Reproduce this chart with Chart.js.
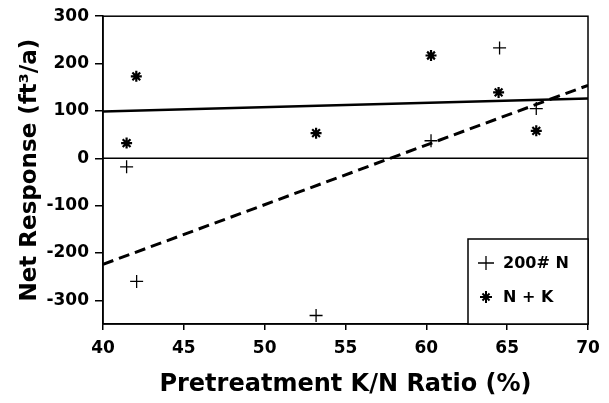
<!DOCTYPE html>
<html>
<head>
<meta charset="utf-8">
<script src="https://cdn.jsdelivr.net/npm/chart.js@4"></script>
<style>
  html, body { margin: 0; padding: 0; background: #fff; }
  #wrap { width: 609px; height: 403px; }
</style>
</head>
<body>
<div id="wrap"><canvas id="chart1"></canvas></div>
<script>
/* data */

var labelN = '200# N';
var ratioN = [41.46, 42.08, 53.18, 60.29, 64.53, 66.8];
var respN = [-18, -260, -332, 37, 233, 105];

var labelNK = 'N + K';
var ratioNK = [41.46, 42.06, 53.18, 60.29, 64.47, 66.8];
var respNK = [32, 173, 53, 217, 139, 58];

/* fitted lines, end points at x = 40 and 70 */
var trendX = [40, 70];
var trendN = [-224, 154];
var trendNK = [99, 126];
var zeroLine = [0, 0];

var xTicks = [40, 45, 50, 55, 60, 65, 70];
var yTicks = [-300, -200, -100, 0, 100, 200, 300];

function toPoints(xs, ys) {
  var pts = [];
  for (var i = 0; i < xs.length; i++) {
    pts.push({ x: xs[i], y: ys[i] });
  }
  return pts;
}

var font = 'DejaVu Sans';

/* frame round the plot + legend box inside it */
var framePlugin = {
  id: 'frame',
  afterDatasetsDraw: function (chart) {
    var ctx = chart.ctx;
    var a = chart.chartArea;
    ctx.save();
    ctx.strokeStyle = '#000';
    ctx.lineWidth = 1.5;
    ctx.strokeRect(a.left, a.top, a.right - a.left, a.bottom - a.top);

    // legend box
    var bx = a.right - 120, by = a.bottom - 85;
    ctx.fillStyle = '#fff';
    ctx.fillRect(bx, by, a.right - bx, a.bottom - by);
    ctx.strokeRect(bx, by, a.right - bx, a.bottom - by);

    ctx.fillStyle = '#000';
    ctx.font = 'bold 16px "' + font + '"';
    ctx.textBaseline = 'middle';
    ctx.textAlign = 'left';

    // plus
    var sx = bx + 18, sy = by + 24;
    ctx.lineWidth = 1.3;
    ctx.beginPath();
    ctx.moveTo(sx - 8, sy); ctx.lineTo(sx + 8, sy);
    ctx.moveTo(sx, sy - 7); ctx.lineTo(sx, sy + 7);
    ctx.stroke();
    ctx.fillText(labelN, bx + 35, sy + 1);

    // star
    sy = by + 58;
    ctx.lineWidth = 2;
    ctx.beginPath();
    for (var k = 0; k < 4; k++) {
      var ang = k * Math.PI / 4;
      var r = k % 2 === 0 ? 6 : 5;
      ctx.moveTo(sx - Math.cos(ang) * r, sy - Math.sin(ang) * r);
      ctx.lineTo(sx + Math.cos(ang) * r, sy + Math.sin(ang) * r);
    }
    ctx.stroke();
    ctx.fillText(labelNK, bx + 35, sy + 1);
    ctx.restore();
  }
};

var ctx = document.getElementById('chart1').getContext('2d');

var myChart = new Chart(ctx, {
  type: 'scatter',
  data: {
    datasets: [
      {
        label: labelN,
        data: toPoints(ratioN, respN),
        pointStyle: 'cross',
        pointRadius: 6.5,
        borderColor: '#000',
        backgroundColor: '#000',
        borderWidth: 1.3
      },
      {
        label: labelNK,
        data: toPoints(ratioNK, respNK),
        pointStyle: 'star',
        pointRadius: 5.5,
        borderColor: '#000',
        backgroundColor: '#000',
        borderWidth: 2.2
      },
      {
        label: 'fit N',
        data: toPoints(trendX, trendN),
        showLine: true,
        pointRadius: 0,
        borderColor: '#000',
        borderWidth: 3,
        borderDash: [11, 6]
      },
      {
        label: 'fit NK',
        data: toPoints(trendX, trendNK),
        showLine: true,
        pointRadius: 0,
        borderColor: '#000',
        borderWidth: 2.5
      },
      {
        label: 'zero',
        data: toPoints(trendX, zeroLine),
        showLine: true,
        pointRadius: 0,
        borderColor: '#000',
        borderWidth: 1.5
      }
    ]
  },
  options: {
    responsive: true,
    maintainAspectRatio: false,
    animation: false,
    layout: { padding: { top: 14, right: 21, left: 0, bottom: 0 } },
    plugins: {
      legend: { display: false },
      tooltip: { enabled: false }
    },
    scales: {
      x: {
        type: 'linear',
        min: 40,
        max: 70,
        afterBuildTicks: function (scale) {
          scale.ticks = xTicks.map(function (v) { return { value: v }; });
        },
        afterFit: function (scale) { scale.height = 79; },
        grid: { display: true, drawOnChartArea: false, drawTicks: true, tickLength: 6, tickColor: '#000', lineWidth: 1.5 },
        border: { display: true, color: '#000', width: 1.5 },
        ticks: { color: '#000', padding: 8, font: { family: font, weight: 'bold', size: 17 } },
        title: {
          display: true,
          text: 'Pretreatment K/N Ratio (%)',
          color: '#000',
          padding: { top: 0, bottom: 4 },
          font: { family: font, weight: 'bold', size: 24 }
        }
      },
      y: {
        type: 'linear',
        min: -350,
        max: 300,
        afterBuildTicks: function (scale) {
          scale.ticks = yTicks.map(function (v) { return { value: v }; });
        },
        afterFit: function (scale) { scale.width = 103; },
        grid: { display: true, drawOnChartArea: false, drawTicks: true, tickLength: 8, tickColor: '#000', lineWidth: 1.5 },
        border: { display: true, color: '#000', width: 1.5 },
        ticks: { color: '#000', padding: 6, font: { family: font, weight: 'bold', size: 17 } },
        title: {
          display: true,
          text: 'Net Response (ft³/a)',
          color: '#000',
          padding: { top: 16, bottom: 0 },
          font: { family: font, weight: 'bold', size: 23 }
        }
      }
    }
  },
  plugins: [framePlugin]
});
</script>
</body>
</html>
